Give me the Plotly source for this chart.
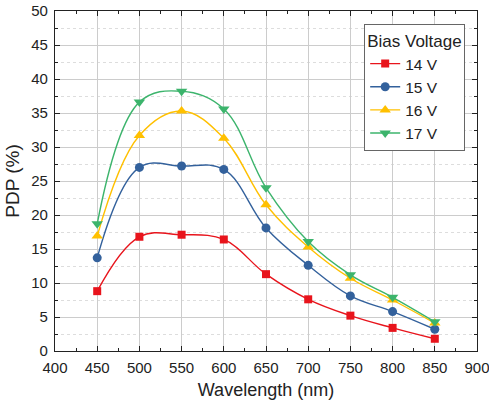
import plotly.graph_objects as go

wavelength = [450, 500, 550, 600, 650, 700, 750, 800, 850]
pdp_14v = [8.8, 16.8, 17.1, 16.4, 11.3, 7.6, 5.2, 3.4, 1.8]
pdp_15v = [13.7, 27.0, 27.2, 26.7, 18.1, 12.6, 8.1, 5.8, 3.2]
pdp_16v = [16.9, 31.7, 35.3, 31.3, 21.5, 15.3, 10.7, 7.5, 4.1]
pdp_17v = [18.7, 36.6, 38.2, 35.6, 24.0, 16.1, 11.2, 7.9, 4.3]
series_names = ["14 V", "15 V", "16 V", "17 V"]
colors = ["#e8141c", "#33619c", "#ffc000", "#3cb46c"]
symbols = ["square", "circle", "triangle-up", "triangle-down"]
sizes = [8, 9, 10, 10]

fig = go.Figure()
for name, vals, c, s, sz in zip(series_names, [pdp_14v, pdp_15v, pdp_16v, pdp_17v], colors, symbols, sizes):
    fig.add_trace(go.Scatter(
        x=wavelength, y=vals, name=name, mode="lines+markers",
        line=dict(color=c, width=1.4, shape="spline", smoothing=1.1),
        marker=dict(symbol=s, size=sz, color=c),
    ))

axis_common = dict(
    showline=True, linecolor="#222", linewidth=1.2, mirror="allticks",
    ticks="inside", ticklen=5, tickcolor="#222",
    showgrid=True, gridcolor="#cccccc", gridwidth=1,
    zeroline=False, automargin=False, ticklabeloverflow="allow",
    tickfont=dict(family="Liberation Sans, Arial", size=15, color="#222"),
)

fig.update_layout(
    width=489, height=404,
    margin=dict(l=55, r=12, t=11, b=53),
    plot_bgcolor="white", paper_bgcolor="white",
    font=dict(family="Liberation Sans, Arial", color="#222"),
    xaxis=dict(range=[400, 900], dtick=50, tick0=400,
               title=dict(text="Wavelength (nm)", font=dict(size=18), standoff=8),
               ticklabelstandoff=3,
               minor=dict(ticks="inside", ticklen=3, dtick=25, tickcolor="#222", showgrid=False),
               **axis_common),
    yaxis=dict(range=[0, 50], dtick=5, tick0=0,
               title=dict(text="PDP (%)", font=dict(size=19), standoff=6),
               ticklabelstandoff=3,
               minor=dict(ticks="inside", ticklen=3, dtick=2.5, tickcolor="#222",
                          showgrid=True, gridcolor="#dddddd", griddash="dot"),
               **axis_common),
    legend=dict(
        title=dict(text="Bias Voltage", font=dict(size=17)),
        x=0.972, y=0.962, xanchor="right", yanchor="top",
        bgcolor="white", bordercolor="#666", borderwidth=1,
        font=dict(size=15.5), tracegroupgap=0,
    ),
)

fig.write_html("out.html")
